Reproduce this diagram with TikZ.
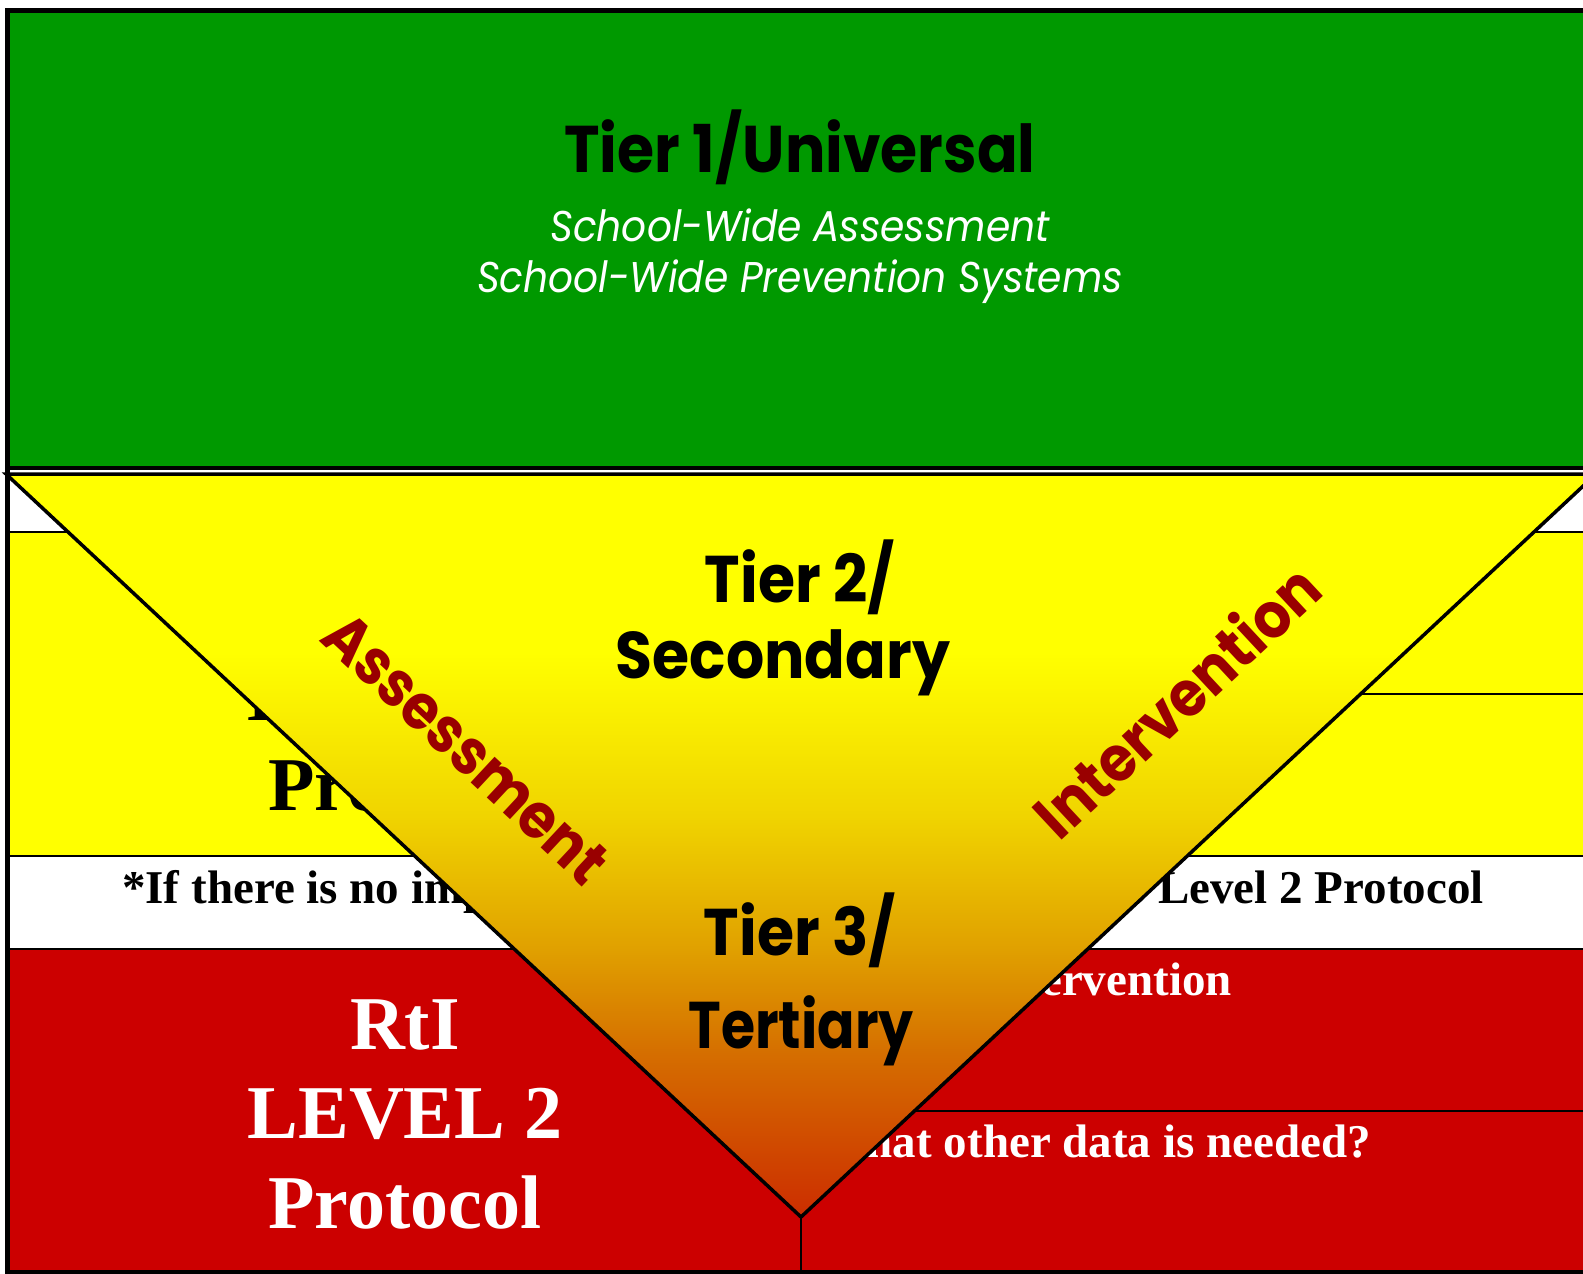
\documentclass[tikz,border=0pt]{standalone}
\usepackage{fontspec}
\setmainfont{Liberation Serif}
\newfontfamily\gothic{Poppins}[FakeStretch=0.91]
\definecolor{tiergreen}{RGB}{0,153,0}
\definecolor{tieryellow}{RGB}{255,255,0}
\definecolor{tierred}{RGB}{204,0,0}
\definecolor{wordred}{RGB}{153,0,0}
\definecolor{fadeA}{RGB}{204,45,0}
\definecolor{fadeB}{RGB}{213,110,0}
\definecolor{fadeC}{RGB}{224,160,0}
\definecolor{fadeD}{RGB}{240,212,0}
\pgfdeclareverticalshading{tierfade}{100bp}{color(0bp)=(fadeA); color(25bp)=(fadeA);
  color(36bp)=(fadeB); color(43bp)=(fadeC); color(52bp)=(fadeD);
  color(63bp)=(tieryellow); color(100bp)=(tieryellow)}

\begin{document}
\begin{tikzpicture}[x=1pt,y=-1pt,
  every node/.style={inner sep=0pt,anchor=base},
  band/.style={line width=2.5pt},
  frame/.style={line width=5pt},
  tier/.style={font=\gothic\bfseries\fontsize{66}{70}\selectfont},
  sub/.style={font=\gothic\itshape\fontsize{43}{48}\selectfont,text=white},
  slope/.style={font=\gothic\bfseries\fontsize{63}{66}\selectfont,text=wordred,anchor=center},
  rti/.style={font=\bfseries\fontsize{76}{89}\selectfont},
  note/.style={font=\bfseries\fontsize{47}{52}\selectfont}]
\useasboundingbox (0,0) rectangle (1583,1274);
\clip (0,0) rectangle (1583,1274);
\fill[white] (0,0) rectangle (1583,1274);

% bands
\fill[tiergreen] (9,12) rectangle (1583,466);
\fill[tieryellow] (9,532) rectangle (1583,856);
\fill[tierred] (9,949) rectangle (1583,1272);
\draw[band] (9,532) -- (1583,532);
\draw[band] (9,856) -- (1583,856);
\draw[band] (9,949) -- (1583,949);
\draw[band] (800,694) -- (1583,694);
\draw[band] (800,1111) -- (1583,1111);
\draw[band] (801,949) -- (801,1272);

% texts behind the triangle
\node[rti] (rtione) at (405,631) {RtI};
\node[rti] (levelone) at (405,720) {LEVEL 1};
\node[rti] (protone) at (405,810) {Protocol};
\node[note,anchor=base west] (ifnote) at (122,903)
  {*If there is no improvement with intervention go to Level 2 Protocol};
\node[note,text=white,anchor=base east] (interv) at (1232,995) {Intervention};
\node[note,text=white,anchor=base east] (otherdata) at (1371,1157) {What other data is needed?};

% triangle
\coordinate (tl) at (6,474);
\coordinate (tr) at (1596,474);
\coordinate (apex) at (801,1217);
\shade[shading=tierfade] (tl) -- (tr) -- (apex) -- cycle;
\draw[line width=3.5pt,line join=miter] (tl) -- (tr) -- (apex) -- cycle;

% tiers
\node[tier] (tierone) at (800,172) {Tier 1/Universal};
\node[sub] (assess) at (800,241) {School-Wide Assessment};
\node[sub] (prevent) at (800,292) {School-Wide Prevention Systems};
\node[tier] (tiertwo) at (800,602) {Tier 2/};
\node[tier] (second) at (783,678) {Secondary};
\node[tier] (tierthree) at (800,955) {Tier 3/};
\node[tier,xscale=0.92,transform shape] (tert) at (801,1048) {Tertiary};
\node[slope,rotate=-43] (assessment) at (466,748) {Assessment};
\node[slope,rotate=43] (intervention) at (1176,700) {Intervention};

\node[rti,text=white] (rtitwo) at (405,1049) {RtI};
\node[rti,text=white] (leveltwo) at (405,1138) {LEVEL 2};
\node[rti,text=white] (prottwo) at (405,1228) {Protocol};

% frame
\draw[line width=4pt] (5,468) -- (1583,468);
\draw[frame] (5,10) -- (1583,10);
\draw[frame] (7,8) -- (7,1274);
\draw[line width=4pt] (5,1272) -- (1583,1272);
\end{tikzpicture}
\end{document}
